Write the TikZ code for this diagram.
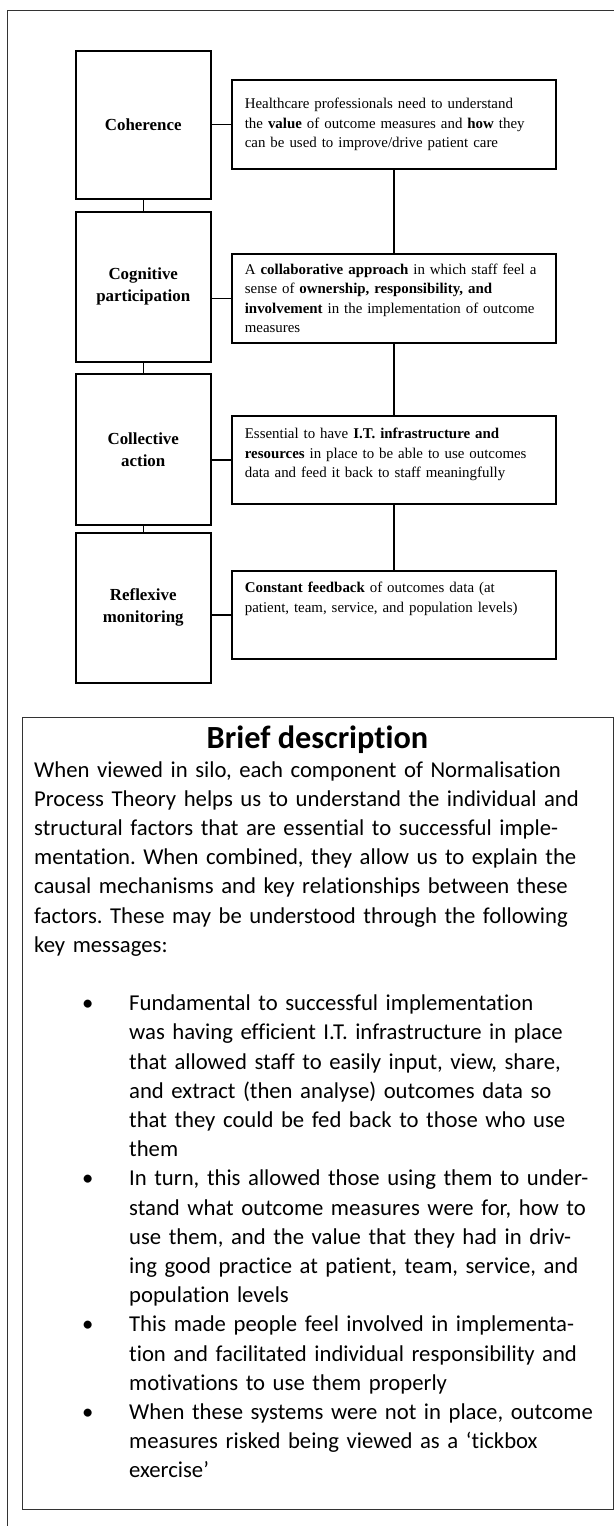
\documentclass[tikz,border=0pt]{standalone}
\usepackage{fontspec}
\setmainfont{Liberation Serif}
\newfontfamily\calibri[Ligatures=NoCommon]{Carlito}

\newcommand\keymsg[1]{\par\noindent\hangindent=47pt\hangafter=1\makebox[47pt][l]{•}#1}

\tikzset{
	stage/.style={draw, line width=1.5pt, minimum width=135pt, inner sep=0pt, align=center, anchor=north west, font=\fontsize{16.9}{22}\selectfont\bfseries},
	note/.style={draw, line width=1.7pt, text width=298pt, inner xsep=13pt, inner ysep=0pt, minimum height=89pt, align=left, anchor=north west, font=\fontsize{14.9}{19.5}\selectfont},
	link/.style={line width=1.5pt},
	briefbox/.style={draw=black!80, line width=1.2pt, minimum width=591pt, minimum height=792pt, inner sep=0pt, anchor=north west},
}

\begin{document}
\begin{tikzpicture}[x=1pt, y=-1pt]
	\useasboundingbox (0,0) rectangle (614,1526);
	\draw [black!80, line width=1pt] (7,1526) -- (7,10) -- (614,10);

	\node[stage, minimum height=148pt] (coh) at (75,50) {Coherence};
	\node[stage, minimum height=150pt] (cog) at (75,211) {Cognitive\\participation};
	\node[stage, minimum height=151pt] (col) at (75,373) {Collective\\action};
	\node[stage, minimum height=150pt] (ref) at (75,532) {Reflexive\\monitoring};

	\node[note] (tb1) at (231,79) {Healthcare professionals need to understand\\the \textbf{value} of outcome measures and \textbf{how} they\\can be used to improve/drive patient care};
	\node[note] (tb2) at (231,253) {A \textbf{collaborative approach} in which staff feel a\\sense of \textbf{ownership, responsibility, and}\\\textbf{involvement} in the implementation of outcome\\measures};
	\node[note, minimum height=88pt, text depth=53pt] (tb3) at (231,415) {Essential to have \textbf{I.T. infrastructure and}\\\textbf{resources} in place to be able to use outcomes\\data and feed it back to staff meaningfully};
	\node[note, minimum height=88pt, text depth=55pt] (tb4) at (231,570) {\textbf{Constant feedback} of outcomes data (at\\patient, team, service, and population levels)};

	\draw[link] (coh.south) -- (cog.north);
	\draw[link] (cog.south) -- (col.north);
	\draw[link] (col.south) -- (ref.north);
	\draw[link] (tb1.west) -- (tb1.west -| coh.east);
	\draw[link] (tb2.west) -- (tb2.west -| cog.east);
	\draw[link] (tb3.west) -- (tb3.west -| col.east);
	\draw[link] (tb4.west) -- (tb4.west -| ref.east);
	\draw[link] (tb1.south) -- (tb2.north);
	\draw[link] (tb2.south) -- (tb3.north);
	\draw[link] (tb3.south) -- (tb4.north);

	\node[briefbox] (brief) at (21.7,717) {};
	\node[font=\calibri\bfseries\fontsize{32.3}{38}\selectfont, inner sep=0pt] (title) at (317.5,740) {Brief description};
	\node[anchor=base west, text width=575pt, inner sep=0pt, align=left, font=\calibri\fontsize{22.7}{29.2}\selectfont] (body) at (34,777) {%
		\frenchspacing
		When viewed in silo, each component of Normalisation\\
		Process Theory helps us to understand the individual and\\
		structural factors that are essential to successful imple-\\
		mentation. When combined, they allow us to explain the\\
		causal mechanisms and key relationships between these\\
		factors. These may be understood through the following\\
		key messages:\par\vspace{29.2pt}
		\leftskip=48pt
		\keymsg{Fundamental to successful implementation\newline was having efficient I.T. infrastructure in place\newline that allowed staff to easily input, view, share,\newline and extract (then analyse) outcomes data so\newline that they could be fed back to those who use\newline them}
		\keymsg{In turn, this allowed those using them to under-\newline stand what outcome measures were for, how to\newline use them, and the value that they had in driv-\newline ing good practice at patient, team, service, and\newline population levels}
		\keymsg{This made people feel involved in implementa-\newline tion and facilitated individual responsibility and\newline motivations to use them properly}
		\keymsg{When these systems were not in place, outcome\newline measures risked being viewed as a ‘tickbox\newline exercise’}\par};
\end{tikzpicture}
\end{document}
